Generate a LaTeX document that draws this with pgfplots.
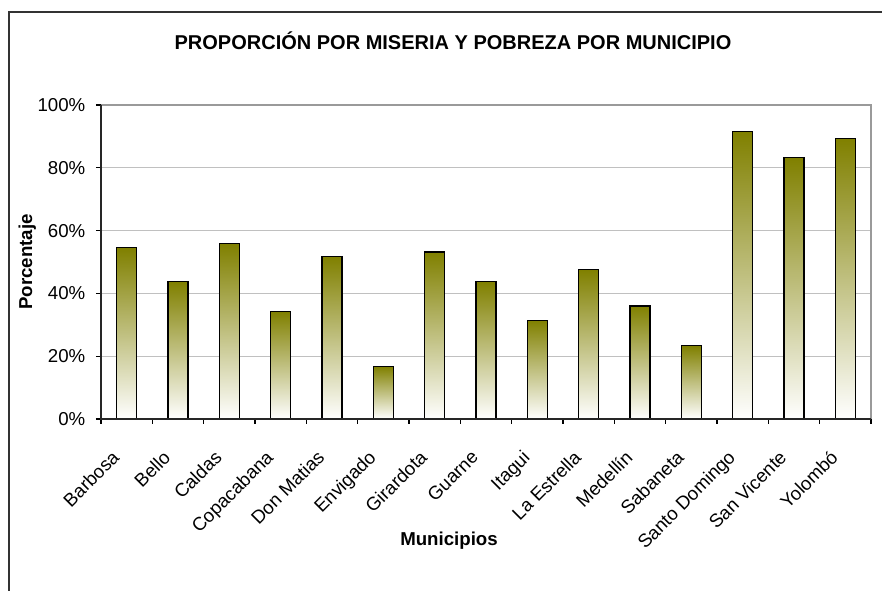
\documentclass[border=0pt]{standalone}
\usepackage{pgfplots}
\pgfplotsset{compat=1.18}
\usepackage{fontspec}
\setmainfont{Liberation Sans}
\definecolor{barolive}{RGB}{128,128,0}
\definecolor{barmid}{RGB}{200,199,186}
\definecolor{gridgray}{RGB}{192,192,192}
\pgfplotsset{mybar/.style={draw=black, line width=0.9pt, top color=barolive, middle color=barmid, bottom color=white, bar shift=0pt}}
\begin{document}
\begin{tikzpicture}[x=0.75pt,y=0.75pt]
\path[use as bounding box] (0,0) rectangle (882,591);
\draw[line width=0.9pt, black!80] (9,0) -- (9,579) -- (882,579);
\node[anchor=base, font=\fontsize{15}{18}\selectfont\bfseries] at (453,541) {PROPORCIÓN POR MISERIA Y POBREZA POR MUNICIPIO};
\node[anchor=base, font=\fontsize{14}{16}\selectfont\bfseries] at (449,45) {Municipios};
\node[anchor=base, rotate=90, font=\fontsize{14}{16}\selectfont\bfseries] at (32,329) {Porcentaje};
\begin{axis}[
  at={(75.75pt,129pt)}, anchor=south west,
  scale only axis, width=577.5pt, height=235.5pt,
  xmin=-0.5, xmax=14.5, ymin=0, ymax=100,
  axis line style={draw=none},
  ytick={0,20,40,60,80,100},
  yticklabels={0\%,20\%,40\%,60\%,80\%,100\%},
  xtick={0,...,14},
  xticklabels={Barbosa,Bello,Caldas,Copacabana,Don Matias,Envigado,Girardota,Guarne,Itagui,La Estrella,Medellín,Sabaneta,Santo Domingo,San Vicente,Yolombó},
  minor xtick={-0.5,0.5,...,14.5},
  xtick pos=bottom, ytick pos=left,
  tick align=outside,
  major x tick style={draw=none},
  minor x tick style={black, line width=0.8pt},
  major y tick style={black, line width=0.8pt},
  minor tick length=3.75pt, major tick length=3.75pt,
  ymajorgrids, grid style={gridgray, line width=0.8pt},
  yticklabel style={font=\fontsize{14}{16}\selectfont, anchor=east, xshift=-4.5pt},
  xticklabel style={font=\fontsize{14}{16}\selectfont, xshift=-12pt, yshift=-14pt, rotate=45, anchor=north east},
  ybar, bar width=15pt,
  clip=false,
  after end axis/.code={
    \draw[gridgray!80!black, line width=0.8pt] (rel axis cs:0,1) -- (rel axis cs:1,1) -- (rel axis cs:1,0);
    \draw[black!85, line width=1pt] (rel axis cs:0,1) -- (rel axis cs:0,0) -- (rel axis cs:1,0);
  },
]
\addplot[mybar] coordinates {(0,54.5)};
\addplot[mybar] coordinates {(1,43.7)};
\addplot[mybar] coordinates {(2,55.8)};
\addplot[mybar] coordinates {(3,34.2)};
\addplot[mybar] coordinates {(4,51.8)};
\addplot[mybar] coordinates {(5,16.7)};
\addplot[mybar] coordinates {(6,53.2)};
\addplot[mybar] coordinates {(7,43.7)};
\addplot[mybar] coordinates {(8,31.4)};
\addplot[mybar] coordinates {(9,47.5)};
\addplot[mybar] coordinates {(10,36.0)};
\addplot[mybar] coordinates {(11,23.3)};
\addplot[mybar] coordinates {(12,91.5)};
\addplot[mybar] coordinates {(13,83.2)};
\addplot[mybar] coordinates {(14,89.3)};
\end{axis}
\end{tikzpicture}
\end{document}
